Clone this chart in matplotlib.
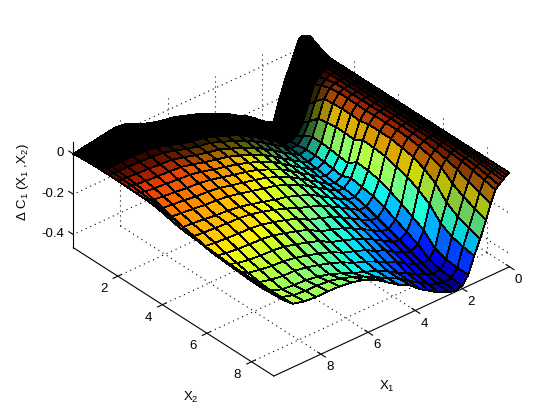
#!/usr/bin/env python3
"""MATLAB style surface of the change in C1 over X1 and X2."""
import numpy as np
import matplotlib

matplotlib.use("Agg")
import matplotlib.pyplot as plt
from mpl_toolkits.mplot3d import proj3d

# grid lines, denser towards zero
x1_vals = [0, .1, .2, .3, .45, .6, .8, 1, 1.25, 1.5, 1.75, 2, 2.3, 2.6, 3, 3.4,
           3.8, 4.2, 4.7, 5.2, 5.7, 6.2, 6.7, 7.2, 7.7, 8.2, 8.7, 9.2, 9.6, 9.8, 10]
x2_vals = [0, .15, .3, .5, .75, 1, 1.3, 1.6, 2, 2.4, 2.8, 3.2, 3.6, 4, 4.5, 5,
           5.5, 6, 6.5, 7, 7.5, 8, 8.5, 9]

# surface height x 1000, one row per x2 value
z_rows = [
    [45, 50, 55, 60, 45, 0, -60, -115, -200, -300, -290, -270, -240, -215, -190, -160, -140, -115, -90, -70, -50, -40, -25, -5, 25, 35, 25, 15, 8, 4, 0],
    [40, 44, 48, 50, 35, -5, -60, -112, -195, -290, -288, -272, -245, -220, -195, -165, -142, -118, -92, -72, -52, -42, -27, -7, 22, 32, 24, 14, 8, 5, 2],
    [30, 34, 36, 38, 25, -5, -55, -105, -190, -280, -285, -272, -250, -225, -198, -168, -145, -120, -95, -75, -55, -44, -28, -8, 20, 30, 23, 14, 9, 6, 4],
    [20, 24, 25, 25, 15, -5, -45, -95, -180, -265, -282, -275, -255, -230, -202, -172, -147, -122, -98, -77, -57, -46, -30, -10, 16, 27, 22, 14, 9, 7, 5],
    [8, 10, 10, 10, 5, -5, -38, -85, -170, -250, -280, -277, -262, -235, -207, -176, -149, -125, -100, -79, -59, -48, -32, -12, 12, 24, 20, 13, 10, 8, 7],
    [0, 2, 2, 2, 0, -5, -30, -75, -170, -240, -280, -278, -270, -242, -210, -180, -150, -127, -102, -80, -60, -50, -35, -15, 8, 20, 18, 12, 10, 9, 8],
    [0, 0, 0, 0, 0, -4, -25, -50, -135, -215, -265, -280, -275, -247, -215, -185, -155, -130, -105, -83, -62, -52, -37, -18, 0, 8, 10, 10, 9, 8, 8],
    [0, 0, 0, 0, 0, -3, -15, -35, -100, -185, -245, -278, -278, -250, -222, -190, -162, -135, -110, -87, -65, -55, -40, -22, -6, 0, 3, 5, 6, 7, 8],
    [0, 0, 0, 0, 0, -2, -5, -20, -60, -145, -220, -270, -280, -260, -230, -200, -170, -142, -115, -92, -70, -58, -44, -27, -12, -8, -3, 0, 3, 5, 7],
    [0, 0, 0, 0, 0, -2, -4, -15, -55, -135, -222, -272, -288, -270, -240, -210, -178, -150, -122, -98, -77, -64, -50, -34, -20, -16, -12, -8, -3, 2, 6],
    [0, 0, 0, 0, 0, -2, -4, -14, -52, -130, -225, -275, -295, -278, -248, -218, -186, -156, -130, -105, -87, -72, -58, -42, -30, -26, -20, -16, -10, -2, 5],
    [0, 0, 0, 0, 0, -2, -4, -16, -52, -130, -232, -282, -302, -287, -256, -226, -195, -165, -138, -113, -96, -83, -68, -54, -44, -40, -33, -27, -22, -8, 4],
    [0, 0, 0, 0, 0, -2, -4, -18, -55, -135, -238, -288, -308, -295, -264, -234, -203, -175, -148, -123, -108, -94, -80, -66, -58, -54, -46, -40, -35, -15, 0],
    [0, 0, 0, 0, 0, -2, -4, -15, -45, -110, -205, -270, -305, -300, -272, -242, -212, -185, -158, -135, -122, -107, -93, -79, -72, -68, -60, -54, -50, -25, -8],
    [0, 0, 0, 0, 0, -2, -4, -15, -45, -112, -212, -280, -312, -310, -284, -255, -226, -200, -176, -155, -142, -125, -110, -96, -88, -84, -76, -70, -66, -35, -22],
    [0, 0, 0, 0, 0, -2, -4, -14, -45, -118, -222, -290, -325, -325, -298, -270, -242, -218, -195, -176, -150, -130, -112, -98, -90, -88, -84, -80, -76, -50, -32],
    [0, 0, 0, 0, 0, -2, -6, -18, -55, -135, -245, -310, -345, -342, -316, -288, -262, -238, -216, -198, -165, -145, -128, -113, -106, -104, -100, -96, -90, -65, -36],
    [0, 0, 0, 0, 0, -3, -10, -25, -65, -150, -270, -335, -365, -360, -333, -306, -282, -258, -238, -220, -185, -165, -148, -132, -124, -122, -118, -112, -102, -75, -40],
    [0, 0, 0, 0, -1, -5, -18, -40, -90, -180, -300, -360, -385, -378, -350, -322, -300, -277, -256, -238, -205, -185, -168, -152, -145, -142, -136, -126, -108, -80, -45],
    [0, 0, 0, -1, -4, -10, -30, -60, -125, -215, -330, -385, -405, -395, -370, -340, -322, -296, -275, -255, -225, -205, -188, -172, -162, -158, -150, -138, -112, -85, -50],
    [0, -1, -2, -4, -8, -15, -45, -105, -185, -275, -385, -425, -430, -415, -392, -360, -345, -318, -290, -270, -240, -218, -200, -184, -174, -172, -164, -148, -116, -86, -52],
    [0, -2, -4, -7, -14, -25, -70, -135, -220, -305, -405, -440, -445, -432, -410, -382, -360, -332, -300, -280, -258, -232, -210, -195, -185, -182, -176, -155, -118, -86, -54],
    [0, -3, -8, -13, -24, -38, -90, -158, -240, -320, -410, -447, -454, -443, -422, -392, -365, -332, -302, -270, -240, -215, -195, -182, -177, -176, -170, -152, -114, -84, -55],
    [0, -5, -12, -20, -35, -50, -110, -180, -260, -330, -410, -450, -460, -450, -430, -400, -370, -330, -300, -260, -220, -195, -180, -172, -170, -170, -165, -150, -110, -82, -55],
]

x1_ticks = [0, 2, 4, 6, 8]
x2_ticks = [2, 4, 6, 8]
z_ticks = [-0.4, -0.2, 0]
z_tick_labels = ["-0.4", "-0.2", "0"]

X1_MAX, X2_MAX = 10, 9
Z_LO, Z_HI = -0.465, 0.06

plt.rcParams["font.family"] = ["Liberation Sans", "DejaVu Sans"]
plt.rcParams["mathtext.fontset"] = "custom"
plt.rcParams["mathtext.rm"] = "Liberation Sans"
plt.rcParams["mathtext.default"] = "regular"


def main():
    fig = plt.figure(figsize=(5.6, 4.2), dpi=100)
    ax = fig.add_axes([0.029, -0.0615, 0.96, 1.12], projection="3d", proj_type="ortho")
    ax.set_axis_off()
    ax.computed_zorder = False
    ax.view_init(elev=33, azim=49.6)
    ax.set_box_aspect((1, 1, 0.408), zoom=0.94)
    ax.set_xlim(0, X1_MAX, view_margin=0)
    ax.set_ylim(0, X2_MAX, view_margin=0)
    ax.set_zlim(Z_LO, Z_HI, view_margin=0)

    # labels go in as 2D text at the projected point of the box
    M = ax.get_proj()

    def label(x, y, z, s, **kw):
        px, py, _ = proj3d.proj_transform(x, y, z, M)
        ax.text2D(px, py, s, transform=ax.transData, fontsize=9.5, va="center", **kw)

    # dotted grid on the floor and the two back walls
    grid = dict(color="black", linestyle=(0, (1, 3.5)), linewidth=0.8, zorder=1)
    for t in x1_ticks:
        ax.plot([t, t], [0, X2_MAX], [Z_LO, Z_LO], **grid)
        ax.plot([t, t], [0, 0], [Z_LO, Z_HI], **grid)
    for t in x2_ticks:
        ax.plot([0, X1_MAX], [t, t], [Z_LO, Z_LO], **grid)
        ax.plot([0, 0], [t, t], [Z_LO, Z_HI], **grid)
    for t in z_ticks:
        ax.plot([0, X1_MAX], [0, 0], [t, t], **grid)
        ax.plot([0, 0], [0, X2_MAX], [t, t], **grid)

    # surface, cell colour from the mean of its corners; cells go dark where
    # the real mesh lines crowd together
    x1 = np.array(x1_vals, dtype=float)
    x2 = np.array(x2_vals, dtype=float)
    z = np.array(z_rows, dtype=float) / 1000.0
    xx, yy = np.meshgrid(x1, x2)
    zc = z.copy()
    zc[:-1, :-1] = 0.25 * (z[:-1, :-1] + z[1:, :-1] + z[:-1, 1:] + z[1:, 1:])
    norm = plt.Normalize(-0.46, 0.07)
    colors = plt.get_cmap("jet")(norm(zc))
    dark_x1 = np.interp(xx, [0, 0.4, 0.8, 1.5], [1.0, 0.8, 0.4, 0.0])
    dark_x1 *= np.interp(yy, [0, 6, 9], [1.0, 1.0, 0.5])
    dark_x2 = np.interp(yy, [0, 1, 1.6, 2.4, 3.2], [1.0, 1.0, 0.6, 0.1, 0.0])
    dark = np.maximum(dark_x1, dark_x2)
    colors[..., :3] *= (1 - dark[..., None])
    ax.plot_surface(
        xx, yy, z, rstride=1, cstride=1, facecolors=colors, shade=False,
        edgecolor="black", linewidth=0.6, antialiased=False, zorder=2,
    )

    # axis lines and ticks
    axis = dict(color="black", linewidth=0.8, zorder=3)
    ax.plot([X1_MAX, X1_MAX], [0, 0], [Z_LO, Z_HI], **axis)
    ax.plot([X1_MAX, X1_MAX], [0, X2_MAX], [Z_LO, Z_LO], **axis)
    ax.plot([0, X1_MAX], [X2_MAX, X2_MAX], [Z_LO, Z_LO], **axis)
    for t in x1_ticks:
        ax.plot([t, t], [X2_MAX - 0.15, X2_MAX + 0.2], [Z_LO, Z_LO], **axis)
        label(t + 0.28, X2_MAX + 0.7, Z_LO, str(t), ha="center")
    for t in x2_ticks:
        ax.plot([X1_MAX - 0.15, X1_MAX + 0.2], [t, t], [Z_LO, Z_LO], **axis)
        label(X1_MAX + 0.85, t + 0.27, Z_LO, str(t), ha="center")
    for t, s in zip(z_ticks, z_tick_labels):
        ax.plot([X1_MAX, X1_MAX], [-0.2, 0], [t, t], **axis)
        label(X1_MAX + 0.2, -0.2, t, s, ha="right")

    label(7.62, 11.54, Z_LO, "X$_1$", ha="center")
    label(12.87, 8.3, Z_LO, "X$_2$", ha="center")
    label(8.71, -3.62, Z_LO, "Δ C$_1$ (X$_1$ ,X$_2$)", rotation=90, ha="center")

    fig.savefig("out.png", dpi=100, facecolor="white")
    plt.close(fig)


if __name__ == "__main__":
    main()
